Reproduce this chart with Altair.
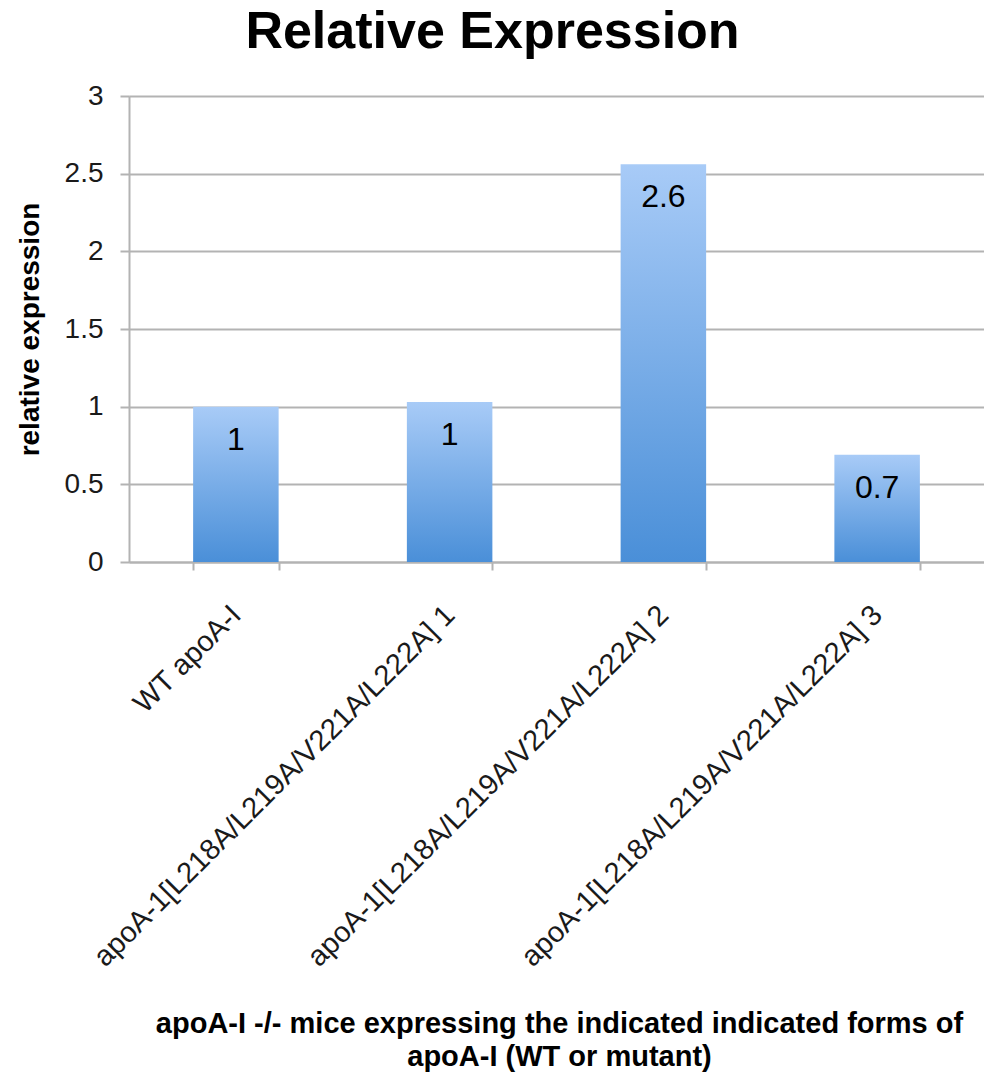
import altair as alt
import pandas as pd

# Relative expression of apoA-I forms in apoA-I -/- mice
categories = [
    "WT apoA-I",
    "apoA-1[L218A/L219A/V221A/L222A] 1",
    "apoA-1[L218A/L219A/V221A/L222A] 2",
    "apoA-1[L218A/L219A/V221A/L222A] 3",
]
values = [1.0, 1.03, 2.56, 0.69]
y_ticks = [0, 0.5, 1, 1.5, 2, 2.5, 3]

chart_title = "Relative Expression"
y_title = "relative expression"
x_title = [
    "apoA-I -/- mice expressing the indicated indicated forms of",
    "apoA-I (WT or mutant)",
]

df = pd.DataFrame({"form": categories, "expression": values})

FONT = "Liberation Sans, Arial, Helvetica, sans-serif"
GRID = "#b3b3b3"

x_enc = alt.X(
    "form:N",
    sort=None,
    scale=alt.Scale(paddingInner=0.6, paddingOuter=0.3),
    axis=alt.Axis(
        title=x_title,
        labelAngle=-45,
        labelAlign="right",
        labelBaseline="middle",
        labelFontSize=29,
        labelColor="#1a1a1a",
        labelPadding=40,
        labelLimit=2000,
        tickBand="extent",
        tickSize=8,
        tickColor=GRID,
        tickWidth=2,
        domainColor=GRID,
        domainWidth=2,
        titleFontSize=29,
        titleFontWeight="bold",
        titleColor="black",
        titleLineHeight=33,
        titleX=430,
        titleY=470,
        titleAlign="center",
        titleBaseline="alphabetic",
        titleLimit=2000,
    ),
)

y_enc = alt.Y(
    "expression:Q",
    scale=alt.Scale(domain=[0, 3], nice=False),
    axis=alt.Axis(
        values=y_ticks,
        format=".1~f",
        title=y_title,
        titleFontSize=28,
        titleFontWeight="bold",
        titleColor="black",
        titleAngle=-90,
        titleX=-99,
        titleY=233,
        titleAlign="center",
        titleBaseline="middle",
        labelFontSize=28,
        labelColor="#1a1a1a",
        labelPadding=17,
        tickSize=9,
        tickColor=GRID,
        tickWidth=2,
        gridColor=GRID,
        gridWidth=2,
        domainColor=GRID,
        domainWidth=2,
    ),
)

bar_fill = alt.Gradient(
    gradient="linear",
    stops=[
        alt.GradientStop(color="#a8cbf7", offset=0),
        alt.GradientStop(color="#4a8fd8", offset=1),
    ],
    x1=0, x2=0, y1=0, y2=1,
)

bars = alt.Chart(df).mark_bar(color=bar_fill).encode(x=x_enc, y=y_enc)

labels = alt.Chart(df).mark_text(
    dy=33, fontSize=32, font=FONT, color="black", baseline="middle"
).encode(
    x=alt.X("form:N", sort=None),
    y=alt.Y("expression:Q"),
    text=alt.Text("expression:Q", format=".1~f"),
)

chart = (
    alt.layer(bars, labels)
    .properties(
        width=855,
        height=466,
        title=alt.TitleParams(
            chart_title,
            fontSize=52,
            fontWeight="bold",
            font=FONT,
            color="black",
            anchor="middle",
            baseline="alphabetic",
            dx=-64,
            dy=48,
            offset=30,
        ),
        autosize=alt.AutoSizeParams(type="none"),
        padding={"left": 129, "top": 96, "right": 0, "bottom": 512},
    )
    .configure_view(stroke=None)
    .configure_axis(labelFont=FONT, titleFont=FONT)
    .configure(background="white")
)

chart.save("out.html", embed_options={"renderer": "svg", "actions": False})
